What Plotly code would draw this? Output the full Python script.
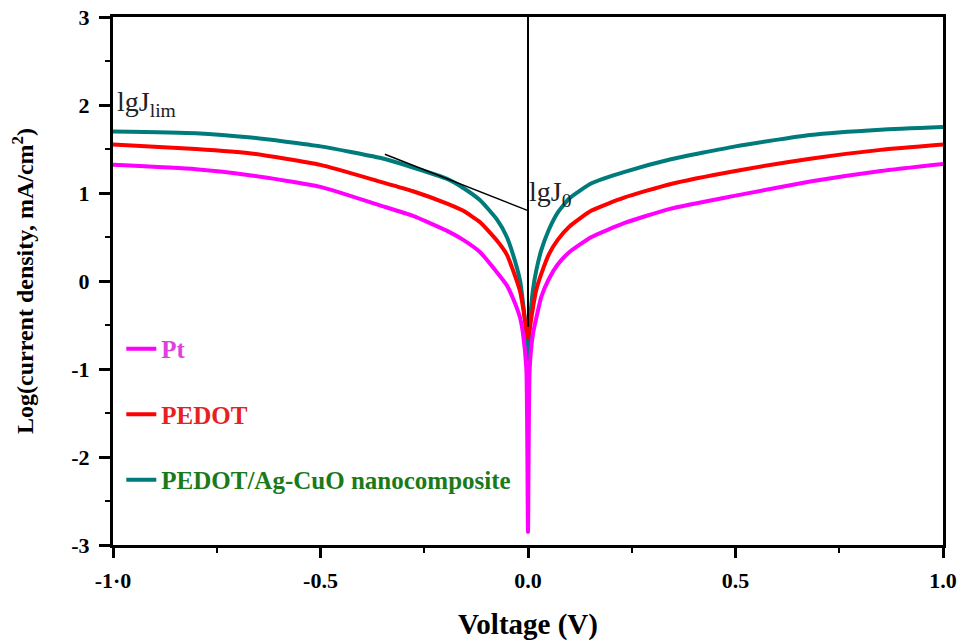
import plotly.graph_objects as go

# Voltage (V) sample points
V = [-1.0, -0.8, -0.667, -0.5, -0.357, -0.277, -0.195, -0.157, -0.116, -0.075, -0.051, -0.036,
     -0.019, -0.012, -0.004, 0.0, 0.004, 0.012, 0.02, 0.032, 0.05, 0.072, 0.1, 0.153, 0.233,
     0.342, 0.5, 0.68, 0.85, 1.0]

pt = [1.32, 1.27, 1.20, 1.07, 0.86, 0.74, 0.57, 0.47, 0.33, 0.10, -0.05, -0.20,
      -0.42, -0.60, -1.00, -2.85, -1.00, -0.60, -0.42, -0.18, 0.02, 0.19, 0.33, 0.50, 0.66,
      0.82, 0.97, 1.13, 1.25, 1.33]
pedot = [1.55, 1.50, 1.45, 1.32, 1.13, 1.02, 0.88, 0.80, 0.67, 0.46, 0.30, 0.12,
         -0.12, -0.30, -0.55, -0.65, -0.55, -0.30, -0.10, 0.08, 0.30, 0.47, 0.62, 0.80, 0.95,
         1.10, 1.25, 1.39, 1.49, 1.55]
comp = [1.70, 1.68, 1.63, 1.53, 1.40, 1.29, 1.16, 1.06, 0.92, 0.70, 0.50, 0.30,
        0.00, -0.25, -0.60, -0.90, -0.50, -0.10, 0.12, 0.35, 0.58, 0.78, 0.94, 1.11, 1.24,
        1.38, 1.53, 1.66, 1.72, 1.75]

names = ["Pt", "PEDOT", "PEDOT/Ag-CuO nanocomposite"]
line_colors = ["#ff00ff", "#ff0000", "#007b7b"]
text_colors = ["#e040e0", "#e82020", "#1a7a1a"]

x_tickvals = [-1, -0.5, 0, 0.5, 1]
x_ticktext = ["-1·0", "-0.5", "0.0", "0.5", "1.0"]
y_tickvals = [-3, -2, -1, 0, 1, 2, 3]
y_ticktext = ["-3", "-2", "-1", "0", "1", "2", "3"]

# guide lines
vline_x = [0.0, 0.0]
vline_y = [-0.52, 3.0]
tangent_x = [-0.345, 0.0]
tangent_y = [1.44, 0.80]

FONT = "Liberation Serif"

fig = go.Figure()
series = [comp, pedot, pt]
order = [2, 1, 0]
for idx, ys in zip(order, series):
    fig.add_trace(go.Scatter(
        x=V, y=ys, mode="lines", line=dict(color=line_colors[idx], width=4, shape="spline", smoothing=0.5),
        name=f"<span style='color:{text_colors[idx]}'><b>{names[idx]}</b></span>",
        legendgroup=names[idx], legendrank=idx + 1))

fig.add_trace(go.Scatter(x=vline_x, y=vline_y, mode="lines", line=dict(color="black", width=2),
                         showlegend=False, hoverinfo="skip"))
fig.add_trace(go.Scatter(x=tangent_x, y=tangent_y, mode="lines", line=dict(color="black", width=1.5),
                         showlegend=False, hoverinfo="skip"))

fig.add_annotation(x=-0.995, y=1.80, xanchor="left", yanchor="bottom", text="lgJ<sub>lim</sub>",
                   showarrow=False, font=dict(family=FONT, size=28, color="#222"))
fig.add_annotation(x=-0.002, y=0.77, xanchor="left", yanchor="bottom", text="lgJ<sub>0</sub>",
                   showarrow=False, font=dict(family=FONT, size=28, color="#222"))

fig.update_layout(
    width=961, height=641,
    margin=dict(l=113, r=18, t=17, b=96),
    plot_bgcolor="white", paper_bgcolor="white",
    font=dict(family=FONT, size=17, color="black"),
    showlegend=True,
    legend=dict(x=0.01, y=0.415, xanchor="left", yanchor="top", bgcolor="rgba(0,0,0,0)",
                traceorder="grouped", tracegroupgap=30, itemwidth=30,
                font=dict(family=FONT, size=25)),
    xaxis=dict(range=[-1, 1], tickvals=x_tickvals, ticktext=[f"<b>{t}</b>" for t in x_ticktext],
               automargin=False, ticklabelstandoff=4,
               ticks="outside", ticklen=10, tickwidth=2.5, tickcolor="black",
               minor=dict(tickvals=[-0.75, -0.25, 0.25, 0.75], ticks="outside", ticklen=5, tickwidth=2, tickcolor="black"),
               showline=True, linewidth=3, linecolor="black", mirror=True, showgrid=False, zeroline=False,
               tickfont=dict(family=FONT, size=22, color="black"),
               title=dict(text="<b>Voltage (V)</b>", font=dict(family=FONT, size=29), standoff=36)),
    yaxis=dict(range=[-3, 3], tickvals=y_tickvals, ticktext=[f"<b>{t}</b>" for t in y_ticktext],
               automargin=False, ticklabelstandoff=5,
               ticks="outside", ticklen=11, tickwidth=2.5, tickcolor="black",
               minor=dict(tickvals=[-2.5, -1.5, -0.5, 0.5, 1.5, 2.5], ticks="outside", ticklen=5, tickwidth=2, tickcolor="black"),
               showline=True, linewidth=3, linecolor="black", mirror=True, showgrid=False, zeroline=False,
               tickfont=dict(family=FONT, size=22, color="black"),
               title=dict(text="<b>Log(current density, mA/cm<sup>2</sup>)</b>", font=dict(family=FONT, size=24), standoff=31)),
)

fig.write_html("out.html")
